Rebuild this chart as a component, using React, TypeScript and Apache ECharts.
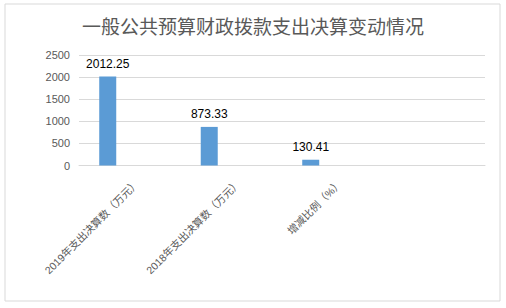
import React, { useEffect, useRef } from "react";
import * as echarts from "echarts";

const titleText = "一般公共预算财政拨款支出决算变动情况";
const categories = ["2019年支出决算数（万元）", "2018年支出决算数（万元）", "增减比例（%）", ""];
const values = [2012.25, 873.33, 130.41, null];
const emptySeries = [null, null, null, null];
const yTicks = { min: 0, max: 2500, interval: 500 };

const FONT = "'Liberation Sans', 'Noto Sans CJK SC', sans-serif";

export default function App() {
  const ref = useRef<HTMLDivElement>(null);
  useEffect(() => {
    document.body.style.margin = "0";
    const chart = echarts.init(ref.current!, null, { renderer: "svg" });
    chart.setOption({
      animation: false,
      backgroundColor: "#ffffff",
      title: {
        text: titleText,
        left: "center",
        top: 18,
        padding: 0,
        textStyle: { color: "#595959", fontSize: 19, fontWeight: "normal", fontFamily: FONT },
      },
      graphic: [
        {
          type: "rect",
          shape: { x: 5, y: 4, width: 495, height: 297 },
          style: { fill: "none", stroke: "#d9d9d9", lineWidth: 1 },
          silent: true,
        },
      ],
      grid: { left: 79, right: 21, top: 55, bottom: 142.5, containLabel: false },
      xAxis: {
        type: "category",
        data: categories,
        axisLine: { show: true, lineStyle: { color: "#d9d9d9", width: 1 } },
        axisTick: { show: false },
        axisLabel: {
          interval: 0,
          rotate: 45,
          color: "#595959",
          fontSize: 10.5,
          fontFamily: FONT,
          margin: 24,
          padding: [0, -11, 0, 0],
        },
      },
      yAxis: {
        type: "value",
        min: yTicks.min,
        max: yTicks.max,
        interval: yTicks.interval,
        axisLine: { show: false },
        axisTick: { show: false },
        splitLine: { lineStyle: { color: "#d9d9d9", width: 1 } },
        axisLabel: {
          color: "#595959",
          fontSize: 11,
          fontFamily: FONT,
          margin: 9,
          formatter: (v: number) => String(v),
        },
      },
      series: [
        {
          type: "bar",
          data: values,
          barWidth: 17,
          barGap: "159%",
          itemStyle: { color: "#5b9bd5" },
          label: {
            show: true,
            position: "top",
            distance: 7,
            color: "#000000",
            fontSize: 12,
            fontFamily: FONT,
          },
        },
        {
          type: "bar",
          data: emptySeries,
          barWidth: 17,
          itemStyle: { color: "#ed7d31" },
        },
      ],
    });
    return () => chart.dispose();
  }, []);
  return <div ref={ref} style={{ width: 506, height: 308 }} />;
}
